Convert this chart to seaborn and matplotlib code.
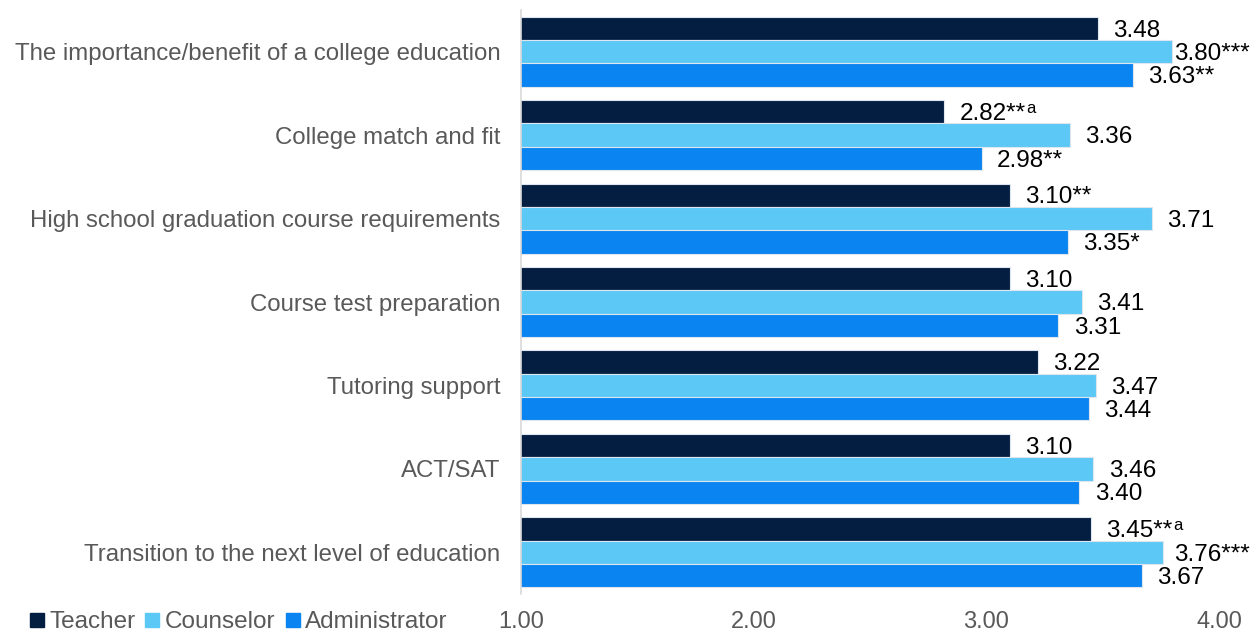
import matplotlib
matplotlib.use("Agg")
import matplotlib.pyplot as plt
from matplotlib.lines import Line2D
import seaborn as sns
import pandas as pd

# Topics and mean ratings by respondent group
topics = [
    "The importance/benefit of a college education",
    "College match and fit",
    "High school graduation course requirements",
    "Course test preparation",
    "Tutoring support",
    "ACT/SAT",
    "Transition to the next level of education",
]
groups = ["Teacher", "Counselor", "Administrator"]
teacher = [3.48, 2.82, 3.10, 3.10, 3.22, 3.10, 3.45]
counselor = [3.80, 3.36, 3.71, 3.41, 3.47, 3.46, 3.76]
administrator = [3.63, 2.98, 3.35, 3.31, 3.44, 3.40, 3.67]

# Significance markers and superscripts shown after each value
teacher_sig = ["", "**", "**", "", "", "", "**"]
teacher_sup = ["", "a", "", "", "", "", "a"]
counselor_sig = ["***", "", "", "", "", "", "***"]
counselor_sup = [""] * 7
administrator_sig = ["**", "**", "*", "", "", "", ""]
administrator_sup = [""] * 7

xticks = [1.0, 2.0, 3.0, 4.0]
xtick_labels = ["1.00", "2.00", "3.00", "4.00"]

colors = ["#041E42", "#5BC8F5", "#0A84F0"]
text_gray = "#595959"

rows = []
for vals, sigs, sups, g in [
    (teacher, teacher_sig, teacher_sup, "Teacher"),
    (counselor, counselor_sig, counselor_sup, "Counselor"),
    (administrator, administrator_sig, administrator_sup, "Administrator"),
]:
    for t, v, s, a in zip(topics, vals, sigs, sups):
        rows.append({"topic": t, "group": g, "value": v, "sig": s, "sup": a})
df = pd.DataFrame(rows)

sns.set_theme(style="white")
plt.rcParams["font.family"] = ["Liberation Sans", "DejaVu Sans"]

fig = plt.figure(figsize=(12.51, 6.31), dpi=100)
ax = fig.add_axes([521 / 1251, 1 - 594 / 631, (1219 - 521) / 1251, 584 / 631])

sns.barplot(
    data=df, x="value", y="topic", hue="group", order=topics,
    hue_order=groups, palette=colors, saturation=1, orient="h", width=0.84,
    edgecolor="#dde6ee", linewidth=0.8, errorbar=None, legend=False, ax=ax,
)

ax.set_xlim(1, 4)
ax.set_ylim(6.5, -0.5)
ax.set_xticks(xticks)
ax.set_xticklabels(xtick_labels)
ax.set_xlabel("")
ax.set_ylabel("")
ax.tick_params(axis="x", labelsize=17, labelcolor=text_gray, length=0, pad=12)
ax.tick_params(axis="y", labelsize=17.3, labelcolor=text_gray, length=0, pad=15)
for side in ["top", "right", "bottom"]:
    ax.spines[side].set_visible(False)
ax.spines["left"].set_color("#d9d9d9")
ax.spines["left"].set_linewidth(1.2)
ax.grid(False)

# Value labels at the end of each bar
labels = []
for container, g in zip(ax.containers, groups):
    sub = df[df["group"] == g].set_index("topic").loc[topics]
    for bar, (_, r) in zip(container, sub.iterrows()):
        yc = bar.get_y() + bar.get_height() / 2
        t = ax.annotate(
            f"{r['value']:.2f}{r['sig']}", xy=(r["value"], yc),
            xytext=(11, -1.6), textcoords="offset points",
            va="center", ha="left", fontsize=17.5, color="black",
            annotation_clip=False,
        )
        labels.append((t, r["sup"]))

fig.canvas.draw()
renderer = fig.canvas.get_renderer()
for t, sup in labels:
    bb = t.get_window_extent(renderer)
    right = bb.x1
    if sup:
        right += 10
    if right > 1250:
        dx = (right - 1250) * 72 / fig.dpi
        ox, oy = t.xyann
        t.xyann = (ox - dx, oy)
    if sup:
        ax.annotate(sup, xy=(1, 1), xycoords=t, xytext=(0.3, 1.5),
                    textcoords="offset points", va="top", ha="left",
                    fontsize=12, color="black", annotation_clip=False)

handles = [Line2D([0], [0], marker="s", linestyle="", markersize=9.5,
                  markerfacecolor=c, markeredgecolor=c) for c in colors]
fig.legend(handles, groups, loc="center left", bbox_to_anchor=(0.024, 0.014),
           ncol=3, frameon=False, fontsize=17.5, labelcolor=text_gray,
           handlelength=0.55, handletextpad=0.25, columnspacing=0.42,
           borderaxespad=0, borderpad=0)

fig.savefig("out.png", dpi=100)
